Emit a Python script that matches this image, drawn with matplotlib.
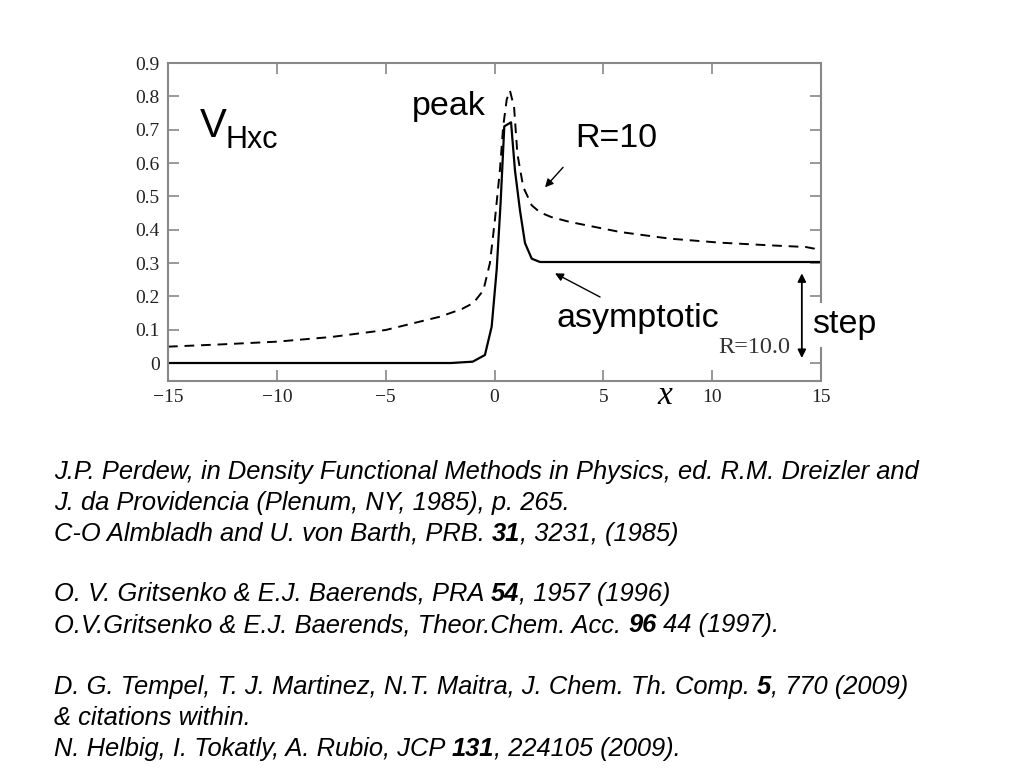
import matplotlib
matplotlib.use('Agg')
import matplotlib.pyplot as plt

# solid curve: asymptotic V_Hxc
x_solid = [-15, -10, -5, -2, -1.0, -0.44, -0.13, 0.10, 0.28, 0.45, 0.76, 0.94, 1.17, 1.40, 1.71, 2.09, 5, 10, 15]
y_solid = [0.0, 0.0, 0.0, 0.0, 0.004, 0.024, 0.109, 0.28, 0.48, 0.71, 0.722, 0.578, 0.458, 0.36, 0.313, 0.303, 0.303, 0.303, 0.303]

# dashed curve: R=10
x_dash = [-15, -12.5, -10, -7.5, -5, -2.5, -1.5, -0.97, -0.51, -0.21, 0.02, 0.25, 0.40, 0.56, 0.71, 0.90,
          1.05, 1.32, 1.71, 2.09, 2.6, 3.47, 5.77, 8.06, 10.36, 12.65, 14.3, 14.7, 15]
y_dash = [0.049, 0.056, 0.064, 0.078, 0.099, 0.139, 0.162, 0.180, 0.218, 0.30, 0.43, 0.58, 0.71, 0.79, 0.817, 0.767,
          0.628, 0.528, 0.473, 0.452, 0.438, 0.423, 0.393, 0.373, 0.361, 0.353, 0.348, 0.343, 0.333]

x_ticks = [-15, -10, -5, 0, 5, 10, 15]
x_tick_labels = ['\u221215', '\u221210', '\u22125', '0', '5', '10', '15']
y_ticks = [0, 0.1, 0.2, 0.3, 0.4, 0.5, 0.6, 0.7, 0.8, 0.9]
y_tick_labels = ['0', '0.1', '0.2', '0.3', '0.4', '0.5', '0.6', '0.7', '0.8', '0.9']

# reference lines: list of (text, bold) segments per line
refs = [
    [('J.P. Perdew, in Density Functional Methods in Physics, ed. R.M. Dreizler and', False)],
    [('J. da Providencia (Plenum, NY, 1985), p. 265.', False)],
    [('C-O Almbladh and U. von Barth, PRB. ', False), ('31', True), (', 3231, (1985)', False)],
    [('O. V. Gritsenko & E.J. Baerends, PRA ', False), ('54', True), (', 1957 (1996)', False)],
    [('O.V.Gritsenko & E.J. Baerends, Theor.Chem. Acc. ', False), ('96', True), (' 44 (1997).', False)],
    [('D. G. Tempel, T. J. Martinez, N.T. Maitra, J. Chem. Th. Comp. ', False), ('5', True), (', 770 (2009)', False)],
    [('& citations within.', False)],
    [('N. Helbig, I. Tokatly, A. Rubio, JCP ', False), ('131', True), (', 224105 (2009).', False)],
]
ref_baseline = [479, 510, 541, 601, 632, 694, 725, 756]

W, H = 1024, 768
fig = plt.figure(figsize=(W / 100, H / 100), dpi=100)
ax = fig.add_axes([168 / W, 1 - 381 / H, (821 - 168) / W, (381 - 63) / H])

ax.plot(x_solid, y_solid, color='black', lw=1.6)
ax.plot(x_dash, y_dash, color='black', lw=1.4, dashes=(5, 3.5))

ax.set_xlim(-15, 15)
ax.set_ylim(-0.054, 0.9)
ax.set_xticks(x_ticks)
ax.set_xticklabels(x_tick_labels)
ax.set_yticks(y_ticks)
ax.set_yticklabels(y_tick_labels)
ax.tick_params(direction='in', length=8, width=1.2, color='#888888', top=True, right=True,
               labelsize=14, labelcolor='#222222', pad=6)
for lab in ax.get_xticklabels() + ax.get_yticklabels():
    lab.set_family('Liberation Serif')
for s in ax.spines.values():
    s.set_color('#888888')
    s.set_linewidth(1.5)

sans = 'Liberation Sans'
ax.text(-13.52, 0.677, 'V', fontsize=29, family=sans, ha='left', va='baseline')
ax.text(-12.37, 0.644, 'Hxc', fontsize=22, family=sans, ha='left', va='baseline')
ax.text(-3.79, 0.77, 'peak', fontsize=24.5, family=sans, ha='left', va='center')
ax.text(3.70, 0.674, 'R=10', fontsize=24.5, family=sans, ha='left', va='center')
ax.text(2.87, 0.135, 'asymptotic', fontsize=24.5, family=sans, ha='left', va='center')
ax.text(14.58, 0.114, 'step', fontsize=24.5, family=sans, ha='left', va='center', clip_on=False,
        bbox=dict(facecolor='white', edgecolor='none', pad=5), zorder=5)
ax.text(10.26, 0.03, 'R=10.0', fontsize=17.5, family='Liberation Serif', color='#333333',
        ha='left', va='baseline')

arrow = dict(arrowstyle='-|>', color='black', lw=1.0, mutation_scale=12, shrinkA=0, shrinkB=0)
ax.annotate('', xy=(2.32, 0.527), xytext=(3.15, 0.587), arrowprops=arrow)
ax.annotate('', xy=(2.78, 0.269), xytext=(4.85, 0.198), arrowprops=arrow)
ax.annotate('', xy=(14.12, 0.269), xytext=(14.12, 0.015),
            arrowprops=dict(arrowstyle='<|-|>', color='black', lw=1.3, mutation_scale=12,
                            shrinkA=0, shrinkB=0))

fig.text(665 / W, 1 - 396 / H, 'x', fontsize=24, family='Liberation Serif', style='italic',
         ha='center', va='center')

# references: draw segments one after another on a common baseline
renderer = fig.canvas.get_renderer()
for parts, ypx in zip(refs, ref_baseline):
    xpx = 54
    for txt, bold in parts:
        t = fig.text(xpx / W, 1 - ypx / H, txt, fontsize=18.4, family=sans, style='italic',
                     weight='bold' if bold else 'normal', ha='left', va='baseline')
        xpx += t.get_window_extent(renderer).width

fig.savefig('out.png', dpi=100)
